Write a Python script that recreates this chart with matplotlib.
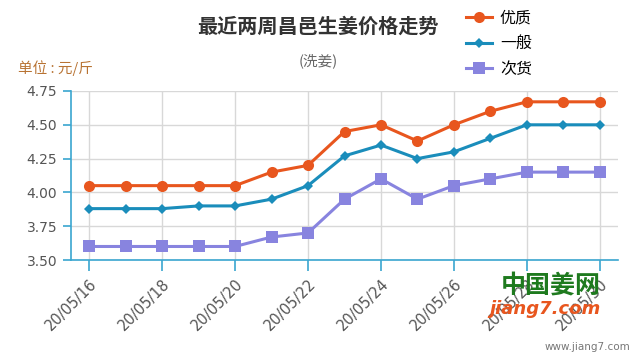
import matplotlib
matplotlib.use("Agg")
import matplotlib.pyplot as plt
from matplotlib.lines import Line2D

plt.rcParams['font.family'] = ['Noto Sans CJK SC', 'DejaVu Sans']

dates = ["20/05/16", "20/05/17", "20/05/18", "20/05/19", "20/05/20", "20/05/21", "20/05/22",
         "20/05/23", "20/05/24", "20/05/25", "20/05/26", "20/05/27", "20/05/28", "20/05/29", "20/05/30"]
youzhi = [4.05, 4.05, 4.05, 4.05, 4.05, 4.15, 4.20, 4.45, 4.50, 4.38, 4.50, 4.60, 4.67, 4.67, 4.67]
yiban = [3.88, 3.88, 3.88, 3.90, 3.90, 3.95, 4.05, 4.27, 4.35, 4.25, 4.30, 4.40, 4.50, 4.50, 4.50]
cihuo = [3.60, 3.60, 3.60, 3.60, 3.60, 3.67, 3.70, 3.95, 4.10, 3.95, 4.05, 4.10, 4.15, 4.15, 4.15]
series_names = ["优质", "一般", "次货"]
yticks = [3.50, 3.75, 4.00, 4.25, 4.50, 4.75]

colors = ["#e8561e", "#1a8dbb", "#8884df"]
markers = ["o", "D", "s"]
msizes = [8, 5.5, 8]
axis_col = "#3aa6d0"

fig = plt.figure(figsize=(6.4, 3.6), dpi=100)
ax = fig.add_axes([71/640, 1-260/360, (618-71)/640, (260-91)/360])

x = list(range(len(dates)))
for vals, c, m, ms, name in zip([youzhi, yiban, cihuo], colors, markers, msizes, series_names):
    ax.plot(x, vals, color=c, marker=m, markersize=ms, linewidth=2.2, label=name, zorder=3,
            markeredgewidth=0)

ax.set_xlim(-0.5, len(dates) - 0.5)
ax.set_ylim(3.5, 4.75)
ax.set_yticks(yticks)
ax.set_yticklabels([f"{v:.2f}" for v in yticks], fontsize=10, color="#555555", family="DejaVu Sans")
tick_idx = x[::2]
ax.set_xticks(tick_idx)
ax.set_xticklabels([dates[i] for i in tick_idx], rotation=45, ha="right", rotation_mode="anchor",
                   fontsize=10.5, color="#555555", family="DejaVu Sans")
ax.grid(True, color="#d8d8d8", linewidth=1)
ax.set_axisbelow(True)
for s in ["top", "right"]:
    ax.spines[s].set_visible(False)
for s in ["left", "bottom"]:
    ax.spines[s].set_color(axis_col)
    ax.spines[s].set_linewidth(1.2)
ax.spines["left"].set_bounds(3.5, 4.75)
ax.tick_params(axis="x", colors=axis_col, length=8, width=1.2, labelcolor="#555555")
ax.tick_params(axis="y", colors=axis_col, length=6, width=1.2, labelcolor="#555555", pad=4)

fig.text(318/640, 1-26/360, "最近两周昌邑生姜价格走势", ha="center", va="center",
         fontsize=14.5, fontweight="bold", color="#333333")
fig.text(318/640, 1-61/360, "(洗姜)", ha="center", va="center", fontsize=10.5, color="#666666")
fig.text(18/640, 1-68/360, "单位 : 元/斤", ha="left", va="center", fontsize=10.5, color="#b87333")

handles = [Line2D([0], [0], color=c, marker=m, markersize=ms, linewidth=2.2, markeredgewidth=0)
           for c, m, ms in zip(colors, markers, msizes)]
leg = fig.legend(handles, series_names, loc="upper left", bbox_to_anchor=(452/640, 1+5/360),
                 frameon=False, fontsize=11.5, handlelength=1.6, handletextpad=0.5, labelspacing=0.55)

fig.text(551/640, 1-286/360, "中国姜网", ha="center", va="center", fontsize=18, color="#1e7a1e", fontweight="bold")
fig.text(545/640, 1-309/360, "jiang7.com", ha="center", va="center", fontsize=13, color="#e8561e",
         fontweight="bold", style="italic", family="DejaVu Sans")
fig.text(630/640, 1-347/360, "www.jiang7.com", ha="right", va="center", fontsize=7.5, color="#777777",
         family="DejaVu Sans")

fig.savefig("out.png", dpi=100)
